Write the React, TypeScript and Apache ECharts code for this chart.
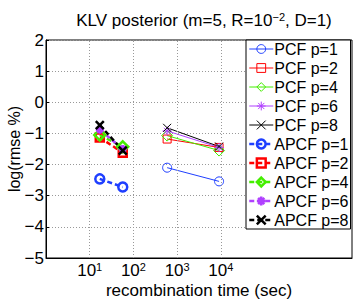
import React, { useEffect, useRef } from 'react';
import * as echarts from 'echarts';

const timePCF = [590, 9100];
const timeAPCF = [17, 57];
const pcfNames = ['PCF p=1', 'PCF p=2', 'PCF p=4', 'PCF p=6', 'PCF p=8'];
const apcfNames = ['APCF p=1', 'APCF p=2', 'APCF p=4', 'APCF p=6', 'APCF p=8'];
const pcfValues = [
  [-2.1, -2.54],
  [-1.18, -1.45],
  [-1.07, -1.55],
  [-0.92, -1.45],
  [-0.82, -1.42],
];
const apcfValues = [
  [-2.46, -2.72],
  [-1.13, -1.62],
  [-1.05, -1.43],
  [-0.88, -1.5],
  [-0.73, -1.55],
];
const xGridTicks = [10, 100, 1000, 10000];
const yMin = -5;
const yMax = 2;

const colors = ['#1f3fff', '#ff0000', '#44ee00', '#b040ff', '#000000'];
const ASTERISK = 'path://M5,0L5,10M0,5L10,5M1.5,1.5L8.5,8.5M1.5,8.5L8.5,1.5';
const CROSS = 'path://M0,0L10,10M0,10L10,0';
const symbols = ['circle', 'rect', 'diamond', ASTERISK, CROSS];
const pcfSizes = [9, 8, 11, 9, 8];
const apcfSizes = [9, 8, 11, 8, 8];

const FONT = 'Liberation Sans';

export default function App() {
  const ref = useRef<HTMLDivElement>(null);
  useEffect(() => {
    if (!ref.current) return;
    const chart = echarts.init(ref.current, undefined, { renderer: 'svg' });
    const series: any[] = [];
    series.push({
      type: 'line',
      name: '_grid',
      data: [],
      silent: true,
      markLine: {
        silent: true,
        symbol: 'none',
        animation: false,
        label: { show: false },
        lineStyle: { type: [1, 2], color: '#999', width: 1 },
        data: xGridTicks.map((v) => ({ xAxis: v })),
      },
    });
    pcfNames.forEach((name, i) => {
      series.push({
        type: 'line',
        name,
        data: timePCF.map((t, j) => [t, pcfValues[i][j]]),
        symbol: symbols[i],
        symbolSize: pcfSizes[i],
        showAllSymbol: true,
        lineStyle: { color: colors[i], width: 1, type: 'solid' },
        itemStyle: { color: 'rgba(255,255,255,0)', borderColor: colors[i], borderWidth: 1 },
        z: 3,
      });
    });
    apcfNames.forEach((name, i) => {
      series.push({
        type: 'line',
        name,
        data: timeAPCF.map((t, j) => [t, apcfValues[i][j]]),
        symbol: symbols[i],
        symbolSize: apcfSizes[i],
        showAllSymbol: true,
        lineStyle: { color: colors[i], width: 2.5, type: [5, 3] },
        itemStyle: { color: 'rgba(255,255,255,0)', borderColor: colors[i], borderWidth: 2.5 },
        z: 3,
      });
    });
    const supRich = {
      b: { fontSize: 17, fontFamily: FONT, color: '#000' },
      s: { fontSize: 11, fontFamily: FONT, color: '#000', verticalAlign: 'top', padding: [0, 0, 7, 0] },
    };
    chart.setOption({
      animation: false,
      textStyle: { fontFamily: FONT },
      title: {
        text: '{a|KLV posterior (m=5, R=10}{s|−2}{a|, D=1)}',
        left: 199,
        top: 6,
        textAlign: 'center',
        textStyle: {
          fontWeight: 'normal',
          rich: {
            a: { fontSize: 17, fontFamily: FONT, color: '#000', fontWeight: 'normal' },
            s: { fontSize: 11, fontFamily: FONT, color: '#000', fontWeight: 'normal', verticalAlign: 'top', padding: [0, 0, 7, 0] },
          },
        },
      },
      grid: {
        left: 46,
        right: 5,
        top: 40,
        bottom: 42,
        containLabel: false,
        outerBoundsMode: 'none',
        show: true,
        borderColor: '#000',
        borderWidth: 1,
        backgroundColor: '#fff',
      },
      legend: {
        data: [...pcfNames, ...apcfNames],
        orient: 'vertical',
        left: 246,
        top: 40,
        itemWidth: 24,
        itemHeight: 11,
        itemGap: 3,
        padding: [1, 2, 1, 2],
        backgroundColor: '#fff',
        borderColor: '#000',
        borderWidth: 1,
        borderRadius: 0,
        lineStyle: { width: 'inherit', type: 'inherit' },
        itemStyle: { borderWidth: 'inherit' },
        textStyle: { fontSize: 16, lineHeight: 16, fontFamily: FONT, color: '#000', padding: [0, 0, 0, -4] },
        selectedMode: false,
      },
      xAxis: {
        type: 'log',
        logBase: 10,
        min: 1,
        max: 1e7,
        name: 'recombination time (sec)',
        nameLocation: 'middle',
        nameGap: 24,
        nameMoveOverlap: false,
        nameTextStyle: { fontSize: 17, fontFamily: FONT, color: '#000' },
        axisLine: { show: true, onZero: false, lineStyle: { color: '#000', width: 1 } },
        axisTick: { show: false },
        splitLine: { show: false },
        axisLabel: {
          margin: 3,
          showMinLabel: true,
          showMaxLabel: true,
          formatter: (v: number) => {
            const e = Math.round(Math.log10(v));
            if (e >= 1 && e <= 4) return '{b|10}{s|' + e + '}';
            return '';
          },
          rich: supRich,
        },
      },
      yAxis: {
        type: 'value',
        min: yMin,
        max: yMax,
        interval: 1,
        name: 'log(rmse %)',
        nameLocation: 'middle',
        nameGap: 24,
        nameMoveOverlap: false,
        nameTextStyle: { fontSize: 16, fontFamily: FONT, color: '#000' },
        axisLine: { show: true, onZero: false, lineStyle: { color: '#000', width: 1 } },
        axisTick: { show: true, inside: true, length: 3, lineStyle: { color: '#000' } },
        splitLine: { show: true, lineStyle: { type: [1, 2], color: '#999', width: 1 } },
        axisLabel: {
          fontSize: 17,
          fontFamily: FONT,
          color: '#000',
          margin: 2,
          formatter: (v: number) => String(v).replace('-', '−'),
        },
      },
      series,
    });
    return () => chart.dispose();
  }, []);
  return <div ref={ref} style={{ width: 357, height: 300, position: 'absolute', left: 0, top: 0, background: '#fff' }} />;
}
